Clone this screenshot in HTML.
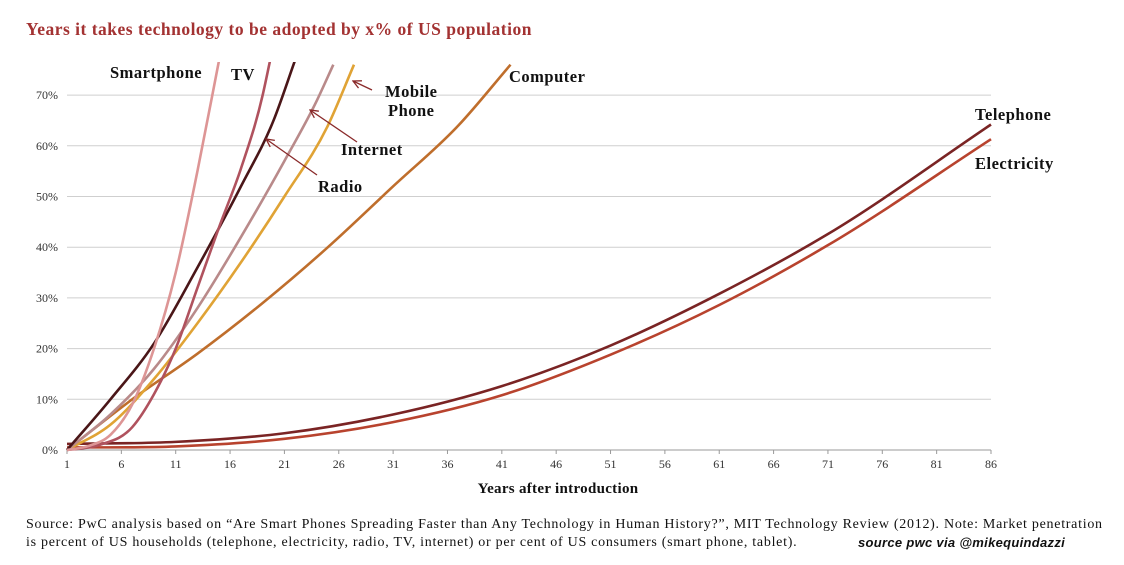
<!DOCTYPE html>
<html><head><meta charset="utf-8"><style>
body{margin:0;background:#fff;width:1124px;height:565px;overflow:hidden;font-family:"Liberation Serif",serif}
svg{position:absolute;left:0;top:0}
.src{position:absolute;left:26px;top:516px;font-size:14px;letter-spacing:0.72px;line-height:18px;color:#111;width:1095px;white-space:nowrap}
</style></head><body>
<svg width="1124" height="565">
<text x="26" y="35" font-size="17.5" font-weight="bold" fill="#a33232" font-family="Liberation Serif" letter-spacing="0.5">Years it takes technology  to be adopted by x% of US population</text>
<g id="grid"></g><g id="axes"></g>
<defs><clipPath id="clip"><rect x="60" y="62" width="940" height="400"/></clipPath>
<marker id="ah" markerWidth="10" markerHeight="10" refX="9" refY="5" orient="auto" markerUnits="userSpaceOnUse"><path d="M1,1 L9,5 L1,9" fill="none" stroke="#8a2a2a" stroke-width="1.3"/></marker></defs>
<g id="lines" clip-path="url(#clip)"></g>
<g font-weight="bold" font-size="16.5" fill="#111" font-family="Liberation Serif" letter-spacing="0.5">
<text x="110" y="78">Smartphone</text>
<text x="231" y="80">TV</text>
<text x="385" y="97">Mobile</text>
<text x="388" y="116">Phone</text>
<text x="341" y="155">Internet</text>
<text x="318" y="192">Radio</text>
<text x="509" y="82">Computer</text>
<text x="975" y="120">Telephone</text>
<text x="975" y="169">Electricity</text>
</g>
<g stroke="#8a2a2a" stroke-width="1.3" fill="none">
<line x1="372" y1="90" x2="353" y2="81" marker-end="url(#ah)"/>
<line x1="357" y1="142" x2="310" y2="110" marker-end="url(#ah)"/>
<line x1="317" y1="175" x2="266" y2="139" marker-end="url(#ah)"/>
</g>
<text x="558" y="493" font-size="15" font-weight="bold" text-anchor="middle" fill="#111" letter-spacing="0.3">Years after introduction</text>
</svg>
<div class="src">Source: PwC analysis based on “Are Smart Phones Spreading Faster than Any Technology in Human History?”, MIT Technology Review (2012). Note: Market penetration<br>is percent of US households (telephone, electricity, radio, TV, internet) or per cent of US consumers (smart phone, tablet). <span style="position:absolute;left:832px;top:18px;font-style:italic;font-weight:bold;font-family:'Liberation Sans',sans-serif;font-size:13px;letter-spacing:0.3px">source pwc via @mikequindazzi</span></div>
<script>
const yTicks=[0,10,20,30,40,50,60,70];
const xTicks=[1,6,11,16,21,26,31,36,41,46,51,56,61,66,71,76,81,86];
const smartYears=[1,3,5,7,9,11,13,15];
const smartVals=[0,0.8,3,9,20,35,55,77];
const tvYears=[1,4,7,9,11,13,15,17,19,19.7];
const tvVals=[0,1,4.5,11,20,32,44,55.5,70,77];
const radioYears=[1,5,9,13,17,20,22];
const radioVals=[0,10,21,36,52,65,77];
const internetYears=[1,5,9,13,17,21,24,25.5];
const internetVals=[0,7,16,28,42,57,69,76];
const mobileYears=[1,5,9,13,17,21,25,27.4];
const mobileVals=[0,5,14,25,37,50,64,76];
const computerYears=[1,7,13,19,25,31,37,41.8];
const computerVals=[0,10,19,29,40,52,64,76];
const phoneYears=[1,11,21,31,41,51,61,71,86];
const phoneVals=[1.2,1.6,3.3,7,12.6,20.6,30.8,42.6,64.2];
const elecVals=[0.5,0.7,2.2,5.5,10.8,18.8,28.6,40.4,61.3];
const X=v=>67+(v-1)*(991-67)/85, Y=p=>450-p*5.07;
const NS="http://www.w3.org/2000/svg";
const grid=document.getElementById('grid'),axes=document.getElementById('axes'),lines=document.getElementById('lines');
yTicks.forEach(t=>{
 if(t>0){const l=document.createElementNS(NS,'line');l.setAttribute('x1',67);l.setAttribute('x2',991);l.setAttribute('y1',Y(t));l.setAttribute('y2',Y(t));l.setAttribute('stroke','#cfcfcf');l.setAttribute('stroke-width','1');
 
 grid.appendChild(l);}
 const tx=document.createElementNS(NS,'text');tx.setAttribute('x',58);tx.setAttribute('y',Y(t)+4);tx.setAttribute('text-anchor','end');tx.setAttribute('font-size','12');tx.setAttribute('fill','#333');tx.textContent=t+'%';
 
 axes.appendChild(tx);
});
const ax=document.createElementNS(NS,'line');ax.setAttribute('x1',67);ax.setAttribute('x2',991);ax.setAttribute('y1',450);ax.setAttribute('y2',450);ax.setAttribute('stroke','#999');

axes.appendChild(ax);
xTicks.forEach(t=>{
 const l=document.createElementNS(NS,'line');l.setAttribute('x1',X(t));l.setAttribute('x2',X(t));l.setAttribute('y1',450);l.setAttribute('y2',454);l.setAttribute('stroke','#999');
 
 axes.appendChild(l);
 const tx=document.createElementNS(NS,'text');tx.setAttribute('x',X(t));tx.setAttribute('y',468);tx.setAttribute('text-anchor','middle');tx.setAttribute('font-size','12');tx.setAttribute('fill','#333');tx.textContent=t;
 
 axes.appendChild(tx);
});
function path(xs,ys){
 const px=xs.map(X),py=ys.map(Y),n=px.length;
 const d=[],m=[];
 for(let i=0;i<n-1;i++)d.push((py[i+1]-py[i])/(px[i+1]-px[i]));
 m[0]=d[0];m[n-1]=d[n-2];
 for(let i=1;i<n-1;i++){const h0=px[i]-px[i-1],h1=px[i+1]-px[i];m[i]=(d[i-1]*d[i]<=0)?0:(d[i-1]*h1+d[i]*h0)/(h0+h1);}
 let s='M'+px[0]+','+py[0];
 for(let i=0;i<n-1;i++){const h=(px[i+1]-px[i])/3;
  s+=` C${px[i]+h},${py[i]+m[i]*h} ${px[i+1]-h},${py[i+1]-m[i+1]*h} ${px[i+1]},${py[i+1]}`;}
 return s;}
function draw(xs,ys,c,name){const e=document.createElementNS(NS,'path');e.setAttribute('d',path(xs,ys));e.setAttribute('fill','none');e.setAttribute('stroke',c);e.setAttribute('stroke-width','2.6');
 
 lines.appendChild(e);}
draw(phoneYears,elecVals,'#b8432e','line-electricity');
draw(phoneYears,phoneVals,'#7a2424','line-telephone');
draw(computerYears,computerVals,'#bf6e2c','line-computer');
draw(mobileYears,mobileVals,'#e0a335','line-mobile-phone');
draw(internetYears,internetVals,'#b98a8a','line-internet');
draw(radioYears,radioVals,'#4a1618','line-radio');
draw(tvYears,tvVals,'#b0525e','line-tv');
draw(smartYears,smartVals,'#dd9595','line-smartphone');
</script>
</body></html>
